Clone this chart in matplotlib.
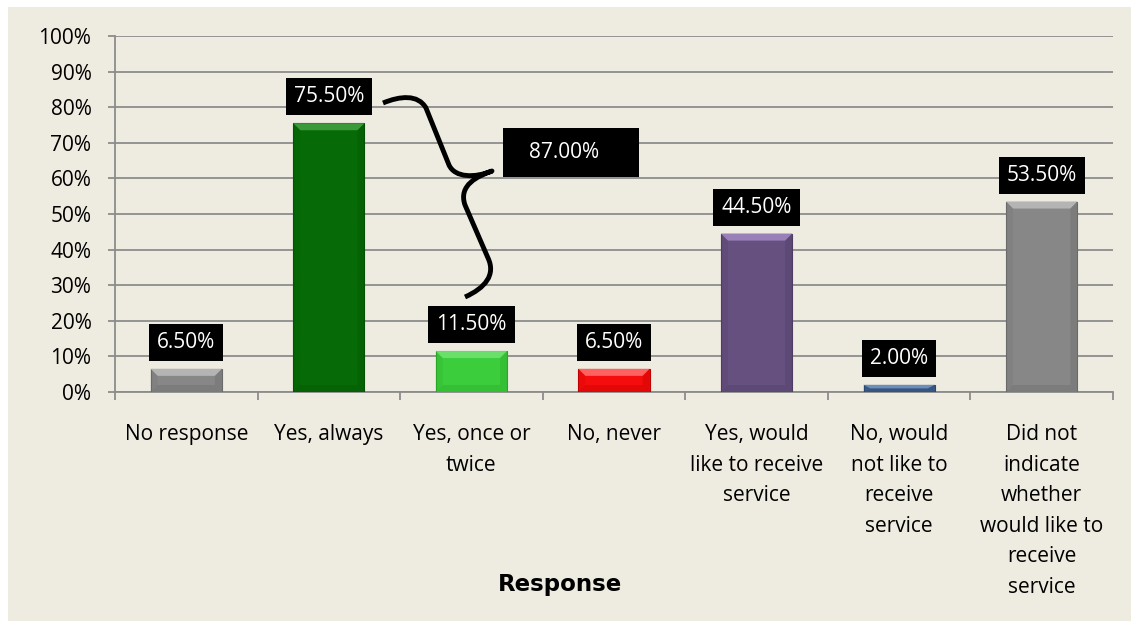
import matplotlib
matplotlib.use("Agg")
import matplotlib.pyplot as plt
from matplotlib.patches import Rectangle, Polygon, PathPatch
from matplotlib.path import Path
import numpy as np

categories = ["No response", "Yes, always", "Yes, once or\ntwice", "No, never",
              "Yes, would\nlike to receive\nservice",
              "No, would\nnot like to\nreceive\nservice",
              "Did not\nindicate\nwhether\nwould like to\nreceive\nservice"]
values = [6.5, 75.5, 11.5, 6.5, 44.5, 2.0, 53.5]
labels = ["6.50%", "75.50%", "11.50%", "6.50%", "44.50%", "2.00%", "53.50%"]
bar_colors = ["#878787", "#066b06", "#3bcd3b", "#f50d0d", "#66507f", "#3d5f8e", "#878787"]
top_colors = ["#b4b4b4", "#3a9a3a", "#6ae06a", "#ff6060", "#9a80b8", "#6d8dbb", "#b4b4b4"]
dark_colors = ["#6a6a6a", "#045204", "#2aa52a", "#c00000", "#4e3c63", "#2a476e", "#6a6a6a"]
yticks = list(range(0, 101, 10))
ytick_labels = [f"{t}%" for t in yticks]
combined_label = "87.00%"
xlabel = "Response"

W, H = 1131, 621
fig = plt.figure(figsize=(W / 100, H / 100), dpi=100)
fig.patch.set_facecolor("white")
bg = "#eeebe0"
fig.patches.append(Rectangle((8 / W, 0), 1, 1 - 7 / H, transform=fig.transFigure,
                             facecolor=bg, edgecolor="none", zorder=-10))

L, R, T, B = 115, 1113, 36, 392
ax = fig.add_axes([L / W, 1 - B / H, (R - L) / W, (B - T) / H])
ax.set_facecolor(bg)
ax.patch.set_alpha(0)
ax.set_xlim(-0.5, len(values) - 0.5)
ax.set_ylim(0, 100)

font = "Open Sans"
fs = 15
gc = "#8c8c8c"
for s in ["top", "right"]:
    ax.spines[s].set_visible(False)
for s in ["left", "bottom"]:
    ax.spines[s].set_color(gc)
    ax.spines[s].set_linewidth(1.3)

ax.set_yticks(yticks)
ax.set_yticklabels(ytick_labels, fontfamily=font, fontsize=fs)
ax.yaxis.grid(True, color=gc, linewidth=1.3)
ax.set_axisbelow(True)
ax.tick_params(axis="y", length=5, color=gc, width=1.3, pad=12)

x = np.arange(len(values))
ax.set_xticks(x)
ax.set_xticklabels(categories, fontfamily=font, fontsize=fs, linespacing=1.6, va="top")
ax.tick_params(axis="x", which="major", length=0, pad=23)
ax.set_xticks(np.arange(-0.5, len(values), 1), minor=True)
ax.tick_params(axis="x", which="minor", length=6, color=gc, width=1.3)

bw = 0.5
bars = ax.bar(x, values, width=bw, color=bar_colors, edgecolor=dark_colors, linewidth=0.8, zorder=3)

# bevel decoration
bx = 7 / ((R - L) / len(values))
by_unit = 100 / (B - T)
for b, tc, dc in zip(bars, top_colors, dark_colors):
    x0, w, h = b.get_x(), b.get_width(), b.get_height()
    by = min(7 * by_unit, h / 2)
    bxx = min(bx, w / 2)
    ax.add_patch(Polygon([(x0, h), (x0 + w, h), (x0 + w - bxx, h - by), (x0 + bxx, h - by)],
                         closed=True, facecolor=tc, edgecolor="none", zorder=4))
    ax.add_patch(Polygon([(x0, 0), (x0 + w, 0), (x0 + w - bxx, by), (x0 + bxx, by)],
                         closed=True, facecolor=dc, edgecolor="none", alpha=0.35, zorder=4))
    ax.add_patch(Polygon([(x0, 0), (x0, h), (x0 + bxx, h - by), (x0 + bxx, by)],
                         closed=True, facecolor=dc, edgecolor="none", alpha=0.2, zorder=4))
    ax.add_patch(Polygon([(x0 + w, 0), (x0 + w, h), (x0 + w - bxx, h - by), (x0 + w - bxx, by)],
                         closed=True, facecolor=dc, edgecolor="none", alpha=0.35, zorder=4))

for xi, v, lab in zip(x, values, labels):
    ax.annotate(lab, (xi, v), xytext=(0, 19), textcoords="offset points",
                ha="center", va="center", color="white", fontfamily=font, fontsize=fs,
                bbox=dict(boxstyle="square,pad=0.38", facecolor="black", edgecolor="none"),
                zorder=6)

# combined box
def px2d(px, py):
    return ((px - L) / ((R - L) / len(values)) - 0.5, (B - py) * 100 / (B - T))

bx0, by0 = px2d(503, 177)
bx1, by1 = px2d(639, 128)
ax.add_patch(Rectangle((bx0, by0), bx1 - bx0, by1 - by0, facecolor="black",
                       edgecolor="none", zorder=6))
tx, ty = px2d(564, 152)
ax.text(tx, ty, combined_label, color="white", fontfamily=font, fontsize=fs,
        ha="center", va="center", zorder=7)

# curly brace
pts_px = [(383, 103), (400, 96), (418, 94), (426, 108), (449, 165),
          (455, 178), (475, 178), (492, 171),
          (478, 176), (458, 185), (465, 205), (488, 258),
          (496, 275), (485, 288), (465, 297)]
codes = [Path.MOVETO, Path.CURVE4, Path.CURVE4, Path.CURVE4, Path.LINETO,
         Path.CURVE4, Path.CURVE4, Path.CURVE4,
         Path.CURVE4, Path.CURVE4, Path.CURVE4, Path.LINETO,
         Path.CURVE4, Path.CURVE4, Path.CURVE4]
verts = [px2d(*p) for p in pts_px]
ax.add_patch(PathPatch(Path(verts, codes), facecolor="none", edgecolor="black",
                       linewidth=3.5, capstyle="butt", joinstyle="round", zorder=6))

fig.text(560 / W, 1 - 585 / H, xlabel, ha="center", va="center", fontsize=16.5,
         fontweight="bold", fontfamily="DejaVu Sans", color="black")

fig.savefig("out.png", dpi=100, facecolor=fig.get_facecolor())
